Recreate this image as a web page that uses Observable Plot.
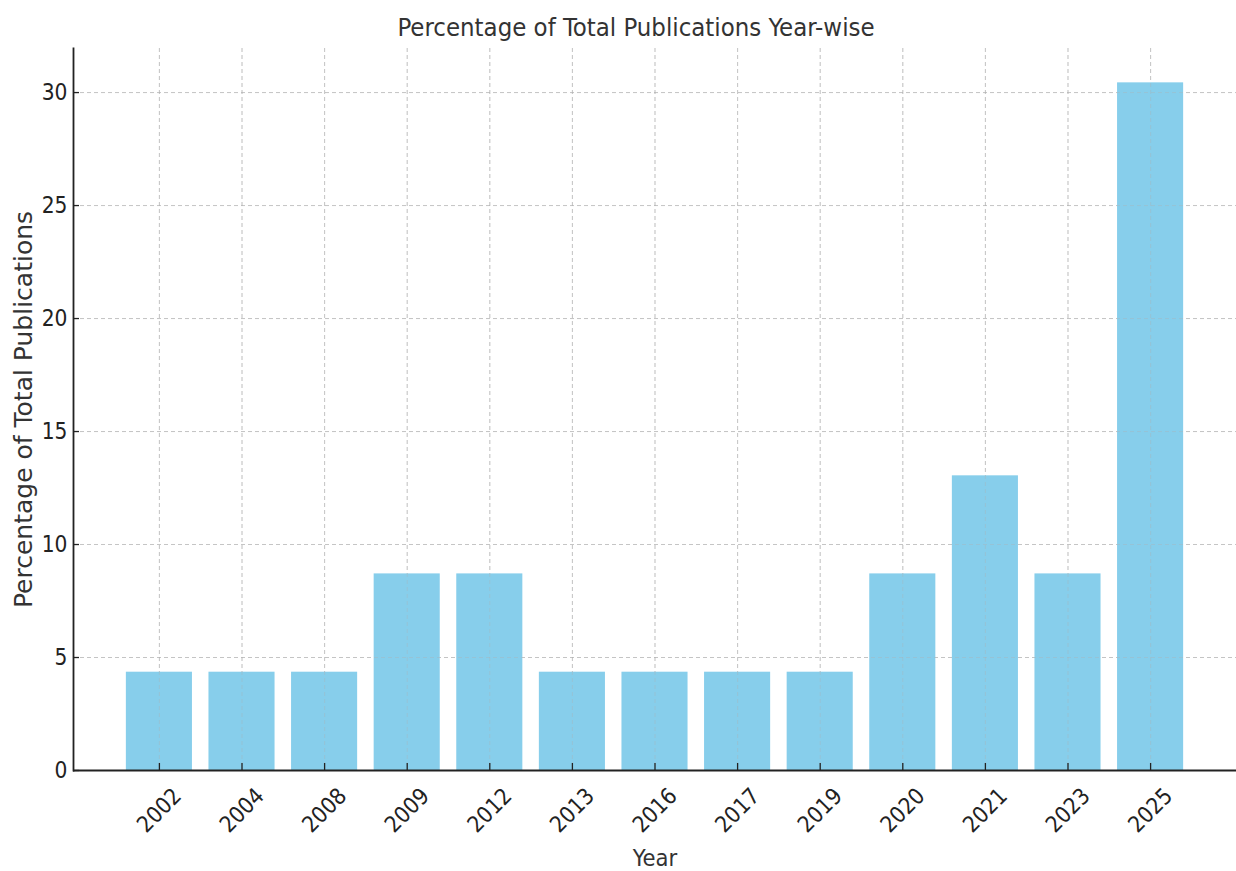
<!DOCTYPE html>
<html>
<head>
<meta charset="utf-8">
<script src="https://cdn.jsdelivr.net/npm/d3@7"></script>
<script src="https://cdn.jsdelivr.net/npm/@observablehq/plot@0.6"></script>
<style>
  html, body { margin: 0; padding: 0; background: #fff; }
  #chart svg { display: block; }
</style>
</head>
<body>
<div id="chart"></div>
<script>
const years = ["2002","2004","2008","2009","2012","2013","2016","2017","2019","2020","2021","2023","2025"];
const percentages = [4.35,4.35,4.35,8.70,8.70,4.35,4.35,4.35,4.35,8.70,13.04,8.70,30.43];
const yTicks = [0,5,10,15,20,25,30];
const titleText = "Percentage of Total Publications Year-wise";
const xLabel = "Year";
const yLabel = "Percentage of Total Publications";

const data = years.map((y, i) => ({year: y, pct: percentages[i]}));
const condensed = "'DejaVu Sans Condensed', 'DejaVu Sans', sans-serif";

const chart = Plot.plot({
  width: 1236,
  height: 871,
  marginLeft: 73,
  marginRight: 0,
  marginTop: 48,
  marginBottom: 101,
  style: {fontFamily: condensed, color: "#333", background: "#fff"},
  x: {domain: years, paddingInner: 0.2, paddingOuter: 0.64, round: false, axis: null},
  y: {domain: [0, 31.95], axis: null},
  marks: [
    Plot.gridX(years, {stroke: "#b0b0b0", strokeOpacity: 0.6, strokeDasharray: "4,3", strokeWidth: 1}),
    Plot.gridY(yTicks, {stroke: "#b0b0b0", strokeOpacity: 0.6, strokeDasharray: "4,3", strokeWidth: 1}),
    Plot.barY(data, {x: "year", y: "pct", fill: "#87CEEB"}),
    Plot.gridX(years, {stroke: "#b0b0b0", strokeOpacity: 0.35, strokeDasharray: "4,3", strokeWidth: 1}),
    Plot.gridY(yTicks, {stroke: "#b0b0b0", strokeOpacity: 0.35, strokeDasharray: "4,3", strokeWidth: 1}),
    Plot.axisX({ticks: years, tickSize: -7, tickFormat: () => "", label: null, stroke: "#222", strokeWidth: 1.3}),
    Plot.axisY({ticks: yTicks, tickSize: -6, tickPadding: 12, fontSize: 22.5, label: null, stroke: "#222", strokeWidth: 1.3, fill: "#222"}),
    Plot.ruleY([0], {stroke: "#222", strokeWidth: 1.8}),
    Plot.frame({anchor: "left", stroke: "#222", strokeWidth: 1.8}),
    Plot.text(years, {x: d => d, y: 0, text: d => d, rotate: -45, dy: 40, fontSize: 22.5, fill: "#222", textAnchor: "middle", lineAnchor: "middle"}),
    Plot.text([titleText], {frameAnchor: "top", dx: -19, dy: -21, text: d => d, fontSize: 25.5, fill: "#333", lineAnchor: "middle"}),
    Plot.text([xLabel], {frameAnchor: "bottom", dy: 88, text: d => d, fontSize: 23.5, fill: "#333", lineAnchor: "middle"}),
    Plot.text([yLabel], {frameAnchor: "left", dx: -50, text: d => d, rotate: -90, fontSize: 25, fill: "#333", textAnchor: "middle", lineAnchor: "middle", fontFamily: "'DejaVu Sans', sans-serif"})
  ]
});
document.getElementById("chart").appendChild(chart);
</script>
</body>
</html>
